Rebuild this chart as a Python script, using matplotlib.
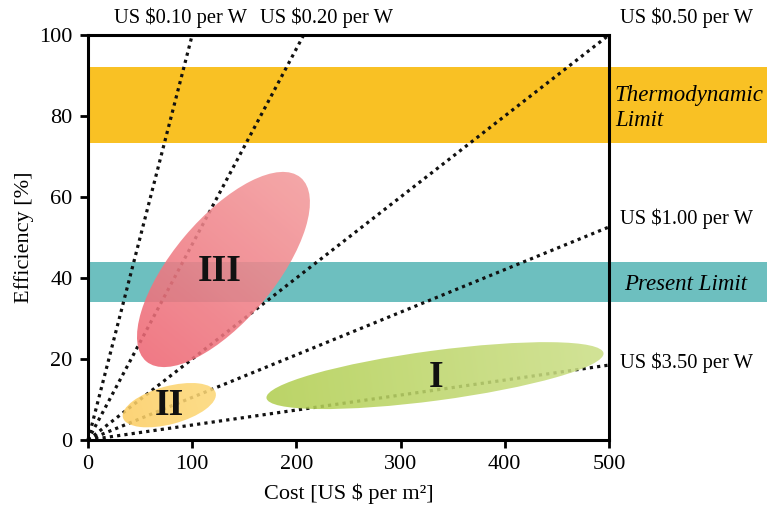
import matplotlib
matplotlib.use("Agg")
import numpy as np
import matplotlib.pyplot as plt
from matplotlib.patches import Ellipse
from matplotlib.transforms import ScaledTranslation
from matplotlib.colors import to_rgb

plt.rcParams['font.family'] = ['Liberation Serif', 'DejaVu Serif']

# ---- data ----
price_labels = ["US $0.10 per W", "US $0.20 per W", "US $0.50 per W", "US $1.00 per W", "US $3.50 per W"]
# end points of iso-price lines (cost, efficiency)
line_end_cost = [100, 207, 500, 500, 500]
line_end_eff = [100, 100, 100, 52.6, 18.5]

band_names = ["Thermodynamic\nLimit", "Present Limit"]
band_low = [73.3, 34.0]
band_high = [92.1, 44.0]
band_colors = ["#F9C124", "#6DBFBF"]

region_names = ["I", "II", "III"]
region_cost = [333, 78, 130]
region_eff = [15.9, 8.6, 42.1]
region_major_px = [340, 96, 240]
region_minor_px = [50, 38, 102]
region_angle = [7.6, 15, 50]
region_color_start = ["#B2CF52", "#FCCF66", "#EE6875"]
region_color_end = ["#CCDF88", "#FDD878", "#F39B9C"]
label_cost = [334, 78.5, 126]
label_eff = [15.5, 8.6, 41.5]

x_ticks = [0, 100, 200, 300, 400, 500]
y_ticks = [0, 20, 40, 60, 80, 100]

W, H = 767, 516
AX_L, AX_R, AX_T, AX_B = 88, 609, 35, 440
fig = plt.figure(figsize=(W / 100, H / 100), dpi=100)
ax = fig.add_axes([AX_L / W, 1 - AX_B / H, (AX_R - AX_L) / W, (AX_B - AX_T) / H])
ax.set_xlim(0, 500)
ax.set_ylim(0, 100)

def px(x, y):
    return x / W, 1 - y / H

# bands (extend past the right spine)
xmax_frac = (W - AX_L) / (AX_R - AX_L)
for lo, hi, c in zip(band_low, band_high, band_colors):
    ax.axhspan(lo, hi, xmin=0, xmax=xmax_frac, color=c, lw=0, clip_on=False, zorder=1)

# iso-price lines
for xe, ye in zip(line_end_cost, line_end_eff):
    ax.plot([0, xe], [0, ye], color="#111111", lw=2.3, linestyle=(0, (1, 1.3)),
            dash_capstyle="butt", zorder=2, clip_on=False)

# regions: gradient-filled ellipses
nx, ny = AX_R - AX_L, AX_B - AX_T
gx, gy = np.meshgrid(np.arange(nx) + 0.5, np.arange(ny) + 0.5)  # pixel grid, y down
xpx_per_unit = nx / 500.0
ypx_per_unit = ny / 100.0
for cx, cy, a, b, ang, c1, c2 in zip(region_cost, region_eff, region_major_px, region_minor_px,
                                     region_angle, region_color_start, region_color_end):
    tr = fig.dpi_scale_trans + ScaledTranslation(cx, cy, ax.transData)
    e = Ellipse((0, 0), a / 100, b / 100, angle=ang, transform=tr,
                facecolor="none", edgecolor="none")
    ax.add_patch(e)
    pcx = cx * xpx_per_unit
    pcy = ny - cy * ypx_per_unit
    th = np.deg2rad(ang)
    t = ((gx - pcx) * np.cos(th) - (gy - pcy) * np.sin(th)) / (a / 2)
    t = np.clip((t + 1) / 2, 0, 1)[..., None]
    img = (1 - t) * np.array(to_rgb(c1)) + t * np.array(to_rgb(c2))
    im = ax.imshow(img, extent=[0, 500, 0, 100], origin="upper", aspect="auto",
                   interpolation="bilinear", alpha=0.88, zorder=3)
    im.set_clip_path(e)

for name, x, y in zip(region_names, label_cost, label_eff):
    ax.text(x, y, name, fontsize=27, fontweight="bold", ha="center", va="center",
            color="#111111", zorder=4)

# spines / ticks
for s in ax.spines.values():
    s.set_linewidth(2.2)
    s.set_zorder(5)
ax.set_xticks(x_ticks)
ax.set_yticks(y_ticks)
ax.tick_params(direction="out", length=6, width=2, labelsize=16, pad=5)
ax.set_xlabel("Cost [US $ per m²]", fontsize=16, labelpad=7)
ax.set_ylabel("Efficiency [%]", fontsize=16, labelpad=4)

# price labels
lab_pos = [(181, 18, "center"), (327, 18, "center"), (620, 18, "left"),
           (620, 219, "left"), (620, 363, "left")]
for t, (x, y, ha) in zip(price_labels, lab_pos):
    fig.text(*px(x, y), t, fontsize=14.8, ha=ha, va="center")

# band labels
fig.text(*px(615, 108), band_names[0], fontsize=16.5, style="italic", ha="left",
         va="center", linespacing=1.3)
fig.text(*px(686, 285), band_names[1], fontsize=16.5, style="italic", ha="center",
         va="center")

fig.savefig("out.png", dpi=100)
